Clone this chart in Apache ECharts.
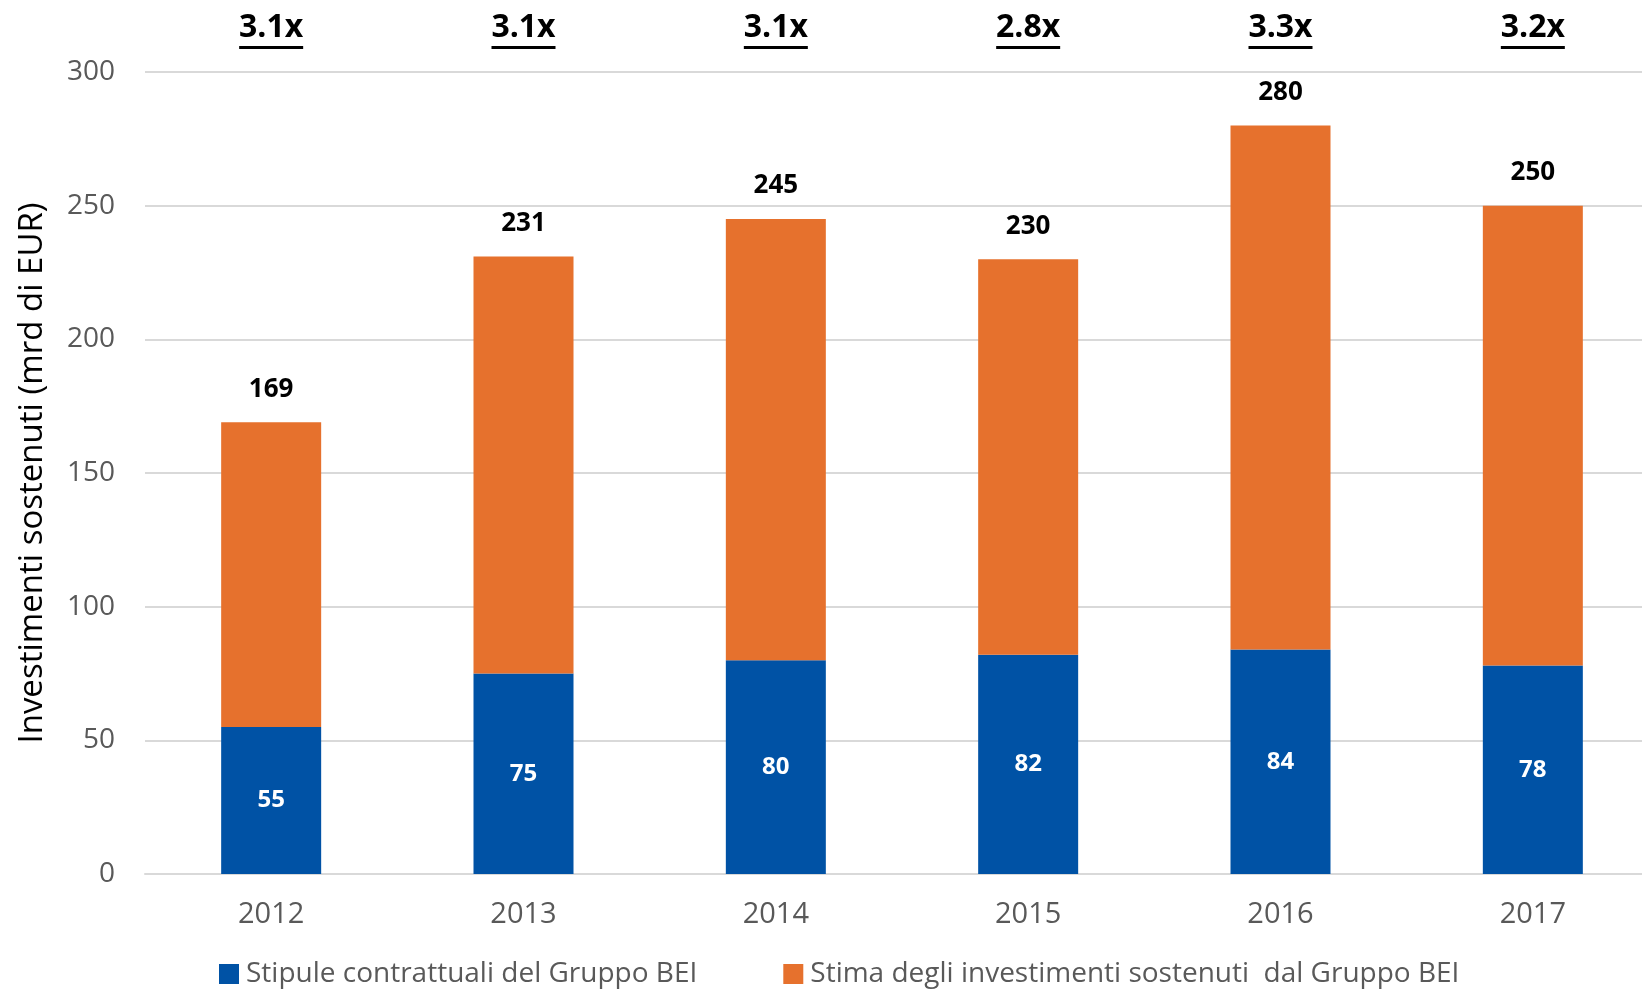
<!DOCTYPE html>
<html>
<head>
<meta charset="utf-8">
<script src="https://cdn.jsdelivr.net/npm/echarts@6/dist/echarts.min.js"></script>
<style>html,body{margin:0;padding:0;background:#fff}#c{width:1642px;height:993px}</style>
</head>
<body>
<div id="c"></div>
<script>
const years = ['2012', '2013', '2014', '2015', '2016', '2017'];
const stipule = [55, 75, 80, 82, 84, 78];
const totals = [169, 231, 245, 230, 280, 250];
const ratios = ['3.1x', '3.1x', '3.1x', '2.8x', '3.3x', '3.2x'];
const seriesNames = ['Stipule contrattuali del Gruppo BEI', 'Stima degli investimenti sostenuti  dal Gruppo BEI'];
const yTicks = { min: 0, max: 300, interval: 50 };
const yTitle = 'Investimenti sostenuti (mrd di EUR)';

const estimate = totals.map((t, i) => t - stipule[i]);
const FONT = '"Open Sans", "Noto Sans", sans-serif';
const BLUE = '#0052A5';
const ORANGE = '#E6712D';

const chart = echarts.init(document.getElementById('c'), null, { renderer: 'canvas' });
chart.setOption({
  animation: false,
  textStyle: { fontFamily: FONT },
  grid: { left: 145, width: 1514, top: 72, bottom: 119, containLabel: false, outerBoundsMode: 'none' },
  legend: {
    bottom: 0, left: 214,
    itemWidth: 20, itemHeight: 20, itemGap: 86,
    icon: 'rect',
    textStyle: { fontFamily: FONT, fontSize: 28, color: '#595959', padding: [0, 0, 0, 2] },
    data: seriesNames
  },
  xAxis: [
    {
      type: 'category', data: years, position: 'bottom',
      axisLine: { lineStyle: { color: '#D9D9D9', width: 2 } },
      axisTick: { show: false },
      axisLabel: { fontFamily: FONT, fontSize: 29, color: '#595959', margin: 26 }
    },
    {
      type: 'category', data: ratios, position: 'top',
      axisLine: { show: false }, axisTick: { show: false }, splitLine: { show: false },
      axisLabel: {
        margin: 23,
        formatter: v => '{t|' + v + '}\n{u|}',
        rich: {
          t: { fontFamily: FONT, fontSize: 32, fontWeight: 'bold', color: '#000', lineHeight: 36, align: 'center' },
          u: { width: 64, height: 3, backgroundColor: '#000', align: 'center' }
        }
      }
    }
  ],
  yAxis: {
    type: 'value', min: yTicks.min, max: yTicks.max, interval: yTicks.interval,
    name: yTitle, nameLocation: 'middle', nameGap: 96, nameRotate: 90,
    nameTextStyle: { fontFamily: FONT, fontSize: 33, color: '#000' },
    axisLine: { show: false }, axisTick: { show: false },
    axisLabel: { fontFamily: FONT, fontSize: 28, color: '#595959', margin: 30 },
    splitLine: { lineStyle: { color: '#D9D9D9', width: 2 } }
  },
  series: [
    {
      name: seriesNames[0], type: 'bar', stack: 'tot', data: stipule, barWidth: 100,
      itemStyle: { color: BLUE },
      label: { show: true, position: 'inside', color: '#fff', fontFamily: FONT, fontWeight: 'bold', fontSize: 24 }
    },
    {
      name: seriesNames[1], type: 'bar', stack: 'tot', data: estimate, barWidth: 100,
      itemStyle: { color: ORANGE },
      label: {
        show: true, position: 'top', distance: 20, color: '#000', fontFamily: FONT, fontWeight: 'bold', fontSize: 26,
        formatter: p => String(totals[p.dataIndex])
      }
    }
  ]
});
</script>
</body>
</html>
